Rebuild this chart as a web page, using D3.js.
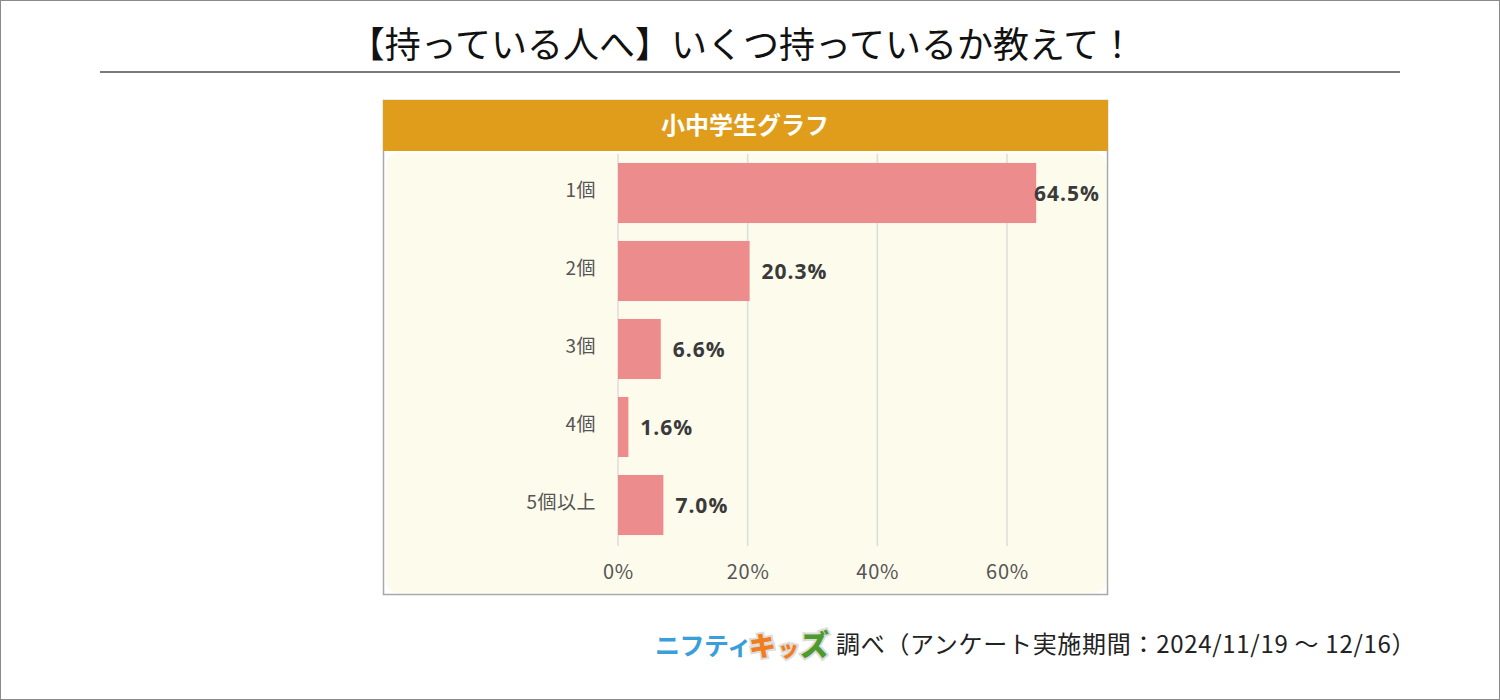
<!DOCTYPE html>
<html><head><meta charset="utf-8">
<script src="https://cdn.jsdelivr.net/npm/d3@7"></script>
<style>body{margin:0;background:#fff;}svg{display:block;}</style>
</head><body>
<svg id="c" width="1500" height="700"></svg>
<script>
const title = "【持っている人へ】いくつ持っているか教えて！";
const panelTitle = "小中学生グラフ";
const categories = ["1個", "2個", "3個", "4個", "5個以上"];
const values = [64.5, 20.3, 6.6, 1.6, 7.0];
const ticks = [0, 20, 40, 60];
const sourceText = "調べ（アンケート実施期間：2024/11/19 ～ 12/16）";

const svg = d3.select("#c");
const F = "'Noto Sans CJK JP','Noto Sans',sans-serif";

svg.append("rect").attr("x",0.5).attr("y",0.5).attr("width",1499).attr("height",699)
  .attr("fill","#fff").attr("stroke","#8a8a8a").attr("stroke-width",1);

svg.append("text").attr("x",742).attr("y",58).attr("text-anchor","middle")
  .attr("font-family",F).attr("font-size",36).attr("fill","#111").text(title);
svg.append("line").attr("x1",100).attr("x2",1400).attr("y1",72).attr("y2",72)
  .attr("stroke","#7a7a7a").attr("stroke-width",2);

// chart box
svg.append("rect").attr("x",383.5).attr("y",100.5).attr("width",724).attr("height",494)
  .attr("fill","#fff").attr("stroke","#a8a8a8").attr("stroke-width",1.5);
svg.append("rect").attr("x",383).attr("y",100).attr("width",725).attr("height",51)
  .attr("fill","#E09D1C");
svg.append("text").attr("x",745).attr("y",134).attr("text-anchor","middle")
  .attr("font-family",F).attr("font-size",24).attr("font-weight","bold").attr("fill","#fff").text(panelTitle);
svg.append("rect").attr("x",386).attr("y",153).attr("width",720).attr("height",440).attr("rx",12)
  .attr("fill","#FDFBEC");

const x = d3.scaleLinear().domain([0,60]).range([618,1007]);
const y = d3.scaleBand().domain(categories).range([154,544]).paddingInner(0.23).paddingOuter(0.115);

const g = svg.append("g");
g.selectAll("line.grid").data(ticks).enter().append("line")
  .attr("x1",d=>x(d)).attr("x2",d=>x(d)).attr("y1",154).attr("y2",546)
  .attr("stroke","#dcdcdc").attr("stroke-width",1.5);

const xAxis = d3.axisBottom(x).tickValues(ticks).tickFormat(d=>d+"%").tickSize(0).tickPadding(0);
const ax = svg.append("g").attr("transform","translate(0,565)").call(xAxis);
ax.select(".domain").remove();
ax.selectAll("text").attr("font-family",F).attr("font-size",20).attr("letter-spacing",0.8).attr("fill","#555");

const yAxis = d3.axisLeft(y).tickSize(0).tickPadding(0);
const ay = svg.append("g").attr("transform","translate(596,-2)").call(yAxis);
ay.select(".domain").remove();
ay.selectAll("text").attr("font-family",F).attr("font-size",19).attr("letter-spacing",0.5).attr("fill","#555");

g.selectAll("rect.bar").data(values).enter().append("rect")
  .attr("x",x(0)).attr("y",(d,i)=>y(categories[i]))
  .attr("width",d=>x(d)-x(0)).attr("height",y.bandwidth())
  .attr("fill","#EC8C8C");

const over = d => x(d)+12+70 > 1102;
g.selectAll("text.lbl").data(values).enter().append("text")
  .attr("x",d=>over(d) ? 1100 : x(d)+12)
  .attr("text-anchor",d=>over(d)?"end":"start")
  .attr("y",(d,i)=>y(categories[i])+y.bandwidth()/2)
  .attr("dy","0.36em")
  .attr("font-family","'Open Sans','Noto Sans',sans-serif").attr("font-size",21).attr("font-weight","bold")
  .attr("letter-spacing",1)
  .attr("fill","#3a3a3a").text(d=>d.toFixed(1)+"%");

// footer logo
const lg = svg.append("g");
lg.append("text").attr("x",655).attr("y",655).attr("font-family",F).attr("font-size",25).attr("font-weight","bold")
  .attr("fill","#3A9EDB").attr("letter-spacing",-0.5).text("ニフティ");
const kids = [["キ","#F07D1E",749,27],["ッ","#F07D1E",778,21],["ズ","#4E9A2E",800,29]];
kids.forEach(k=>{
  lg.append("text").attr("x",k[2]).attr("y",656).attr("font-family",F).attr("font-size",k[3]).attr("font-weight",900)
    .attr("fill",k[1]).attr("stroke","#ddd").attr("stroke-width",4).attr("paint-order","stroke").text(k[0]);
});
svg.append("text").attr("x",836).attr("y",653).attr("font-family",F).attr("font-size",24)
  .attr("letter-spacing",0.7).attr("fill","#222").text(sourceText);
</script>
</body></html>
